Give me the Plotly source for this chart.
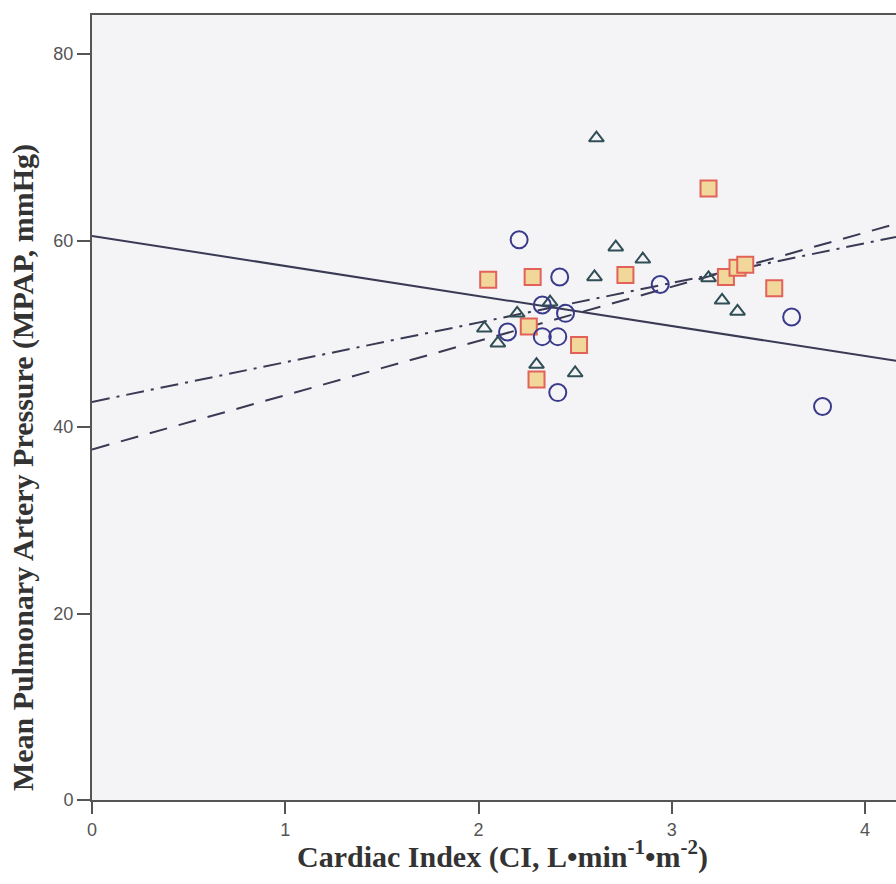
import plotly.graph_objects as go

# Группа 1 (круги)
circle_ci = [2.21, 2.42, 2.94, 3.62, 3.78, 2.41, 2.33, 2.41, 2.45, 2.33, 2.15]
circle_mpap = [60.1, 56.1, 55.3, 51.8, 42.2, 43.7, 49.7, 49.7, 52.2, 53.1, 50.2]

# Группа 2 (треугольники)
tri_ci = [2.61, 2.71, 2.85, 2.60, 2.37, 2.20, 2.03, 2.10, 2.30, 2.50, 3.19, 3.26, 3.34]
tri_mpap = [71.0, 59.3, 58.0, 56.1, 53.4, 52.2, 50.6, 49.0, 46.7, 45.8, 56.0, 53.6, 52.4]

# Группа 3 (квадраты)
sq_ci = [3.19, 2.05, 2.28, 2.76, 2.26, 2.52, 2.30, 3.28, 3.34, 3.38, 3.53]
sq_mpap = [65.6, 55.8, 56.1, 56.3, 50.8, 48.8, 45.1, 56.1, 57.1, 57.4, 54.9]

# Линии регрессии (концы)
fit_x = [0, 4.16]
fit_solid = [60.5, 47.1]
fit_dash = [37.6, 61.8]
fit_dashdot = [42.7, 60.4]

x_title = '<b>Cardiac Index (CI, L•min<sup>-1</sup>•m<sup>-2</sup>)</b>'
y_title = '<b>Mean Pulmonary Artery Pressure (MPAP, mmHg)</b>'

fig = go.Figure()

fig.add_trace(go.Scatter(x=fit_x, y=fit_solid, mode='lines',
                         line=dict(color='#3a3a55', width=2)))
fig.add_trace(go.Scatter(x=fit_x, y=fit_dash, mode='lines',
                         line=dict(color='#3a3a55', width=2, dash='18px,12px')))
fig.add_trace(go.Scatter(x=fit_x, y=fit_dashdot, mode='lines',
                         line=dict(color='#3a3a55', width=2, dash='18px,7px,3px,7px')))

fig.add_trace(go.Scatter(x=sq_ci, y=sq_mpap, mode='markers',
                         marker=dict(symbol='square', size=16, color='#f1d89a',
                                     line=dict(color='#e2625a', width=2))))
fig.add_trace(go.Scatter(x=tri_ci, y=tri_mpap, mode='markers',
                         marker=dict(symbol='triangle-up-open', size=13, color='#2f4f55',
                                     line=dict(width=2))))
fig.add_trace(go.Scatter(x=circle_ci, y=circle_mpap, mode='markers',
                         marker=dict(symbol='circle-open', size=17, color='#3a3a8a',
                                     line=dict(width=2))))

# Подписи осей (аннотации, чтобы точно разместить)
fig.add_annotation(text=x_title, xref='paper', yref='paper', x=0.51, y=-0.070,
                   xanchor='center', yanchor='middle', showarrow=False,
                   font=dict(family='Liberation Serif', size=30, color='#333'))
fig.add_annotation(text=y_title, xref='paper', yref='paper', x=-0.086, y=0.424,
                   xanchor='center', yanchor='middle', showarrow=False, textangle=-90,
                   font=dict(family='Liberation Serif', size=30, color='#333'))

fig.update_layout(
    width=896, height=884,
    margin=dict(l=92, r=0, t=15, b=84),
    paper_bgcolor='white',
    plot_bgcolor='#f4f4f7',
    showlegend=False,
    xaxis=dict(
        range=[0, 4.16], tickvals=[0, 1, 2, 3, 4],
        showgrid=False, zeroline=False,
        showline=True, linecolor='#555', linewidth=2, mirror=True,
        ticks='outside', ticklen=12, tickwidth=2, tickcolor='#555',
        tickfont=dict(family='Liberation Sans Narrow, Arial', size=18, color='#555'),
    ),
    yaxis=dict(
        range=[0, 84.2], tickvals=[0, 20, 40, 60, 80],
        showgrid=False, zeroline=False,
        showline=True, linecolor='#555', linewidth=2,
        ticks='outside', ticklen=13, tickwidth=2, tickcolor='#555',
        tickfont=dict(family='Liberation Sans Narrow, Arial', size=18, color='#555'),
    ),
)

fig.write_html("out.html", config={'displayModeBar': False},
               post_script="document.body.style.margin='0';")
